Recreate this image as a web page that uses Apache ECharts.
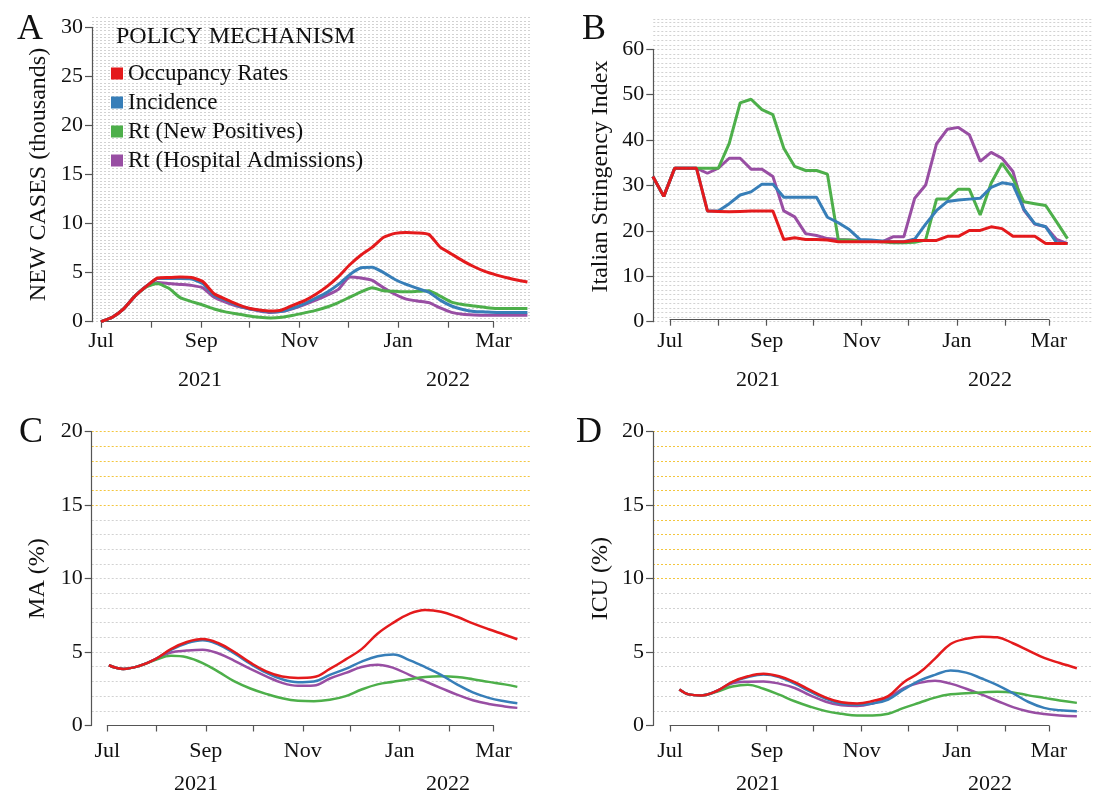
<!DOCTYPE html>
<html>
<head>
<meta charset="utf-8">
<script src="https://cdn.jsdelivr.net/npm/echarts@6/dist/echarts.min.js"></script>
<style>
html, body { margin: 0; padding: 0; background: #fff; }
#chart { width: 1097px; height: 796px; }
</style>
</head>
<body>
<div id="chart"></div>
<script>
const seriesNames = ['Occupancy Rates', 'Incidence', 'Rt (New Positives)', 'Rt (Hospital Admissions)']
const seriesColors = ['#e41a1c', '#377eb8', '#4daf4a', '#984ea3']
const monthNames = ['Jan', 'Feb', 'Mar', 'Apr', 'May', 'Jun', 'Jul', 'Aug', 'Sep', 'Oct', 'Nov', 'Dec']
const yearLabels = ['2021', '2022']

// A: new cases (thousands), weekly
const datesA = ['2021-07-01', '2021-07-08', '2021-07-15', '2021-07-22', '2021-07-29', '2021-08-05', '2021-08-12', '2021-08-19', '2021-08-26', '2021-09-02', '2021-09-09', '2021-09-16', '2021-09-23', '2021-09-30', '2021-10-07', '2021-10-14', '2021-10-21', '2021-10-28', '2021-11-04', '2021-11-11', '2021-11-18', '2021-11-25', '2021-12-02', '2021-12-09', '2021-12-16', '2021-12-23', '2021-12-30', '2022-01-06', '2022-01-13', '2022-01-20', '2022-01-27', '2022-02-03', '2022-02-10', '2022-02-17', '2022-02-24', '2022-03-03', '2022-03-10', '2022-03-17', '2022-03-22']
const occA = [0.0, 0.45, 1.3, 2.6, 3.6, 4.45, 4.5, 4.55, 4.5, 4.1, 2.85, 2.3, 1.8, 1.4, 1.2, 1.1, 1.2, 1.7, 2.15, 2.8, 3.6, 4.6, 5.8, 6.8, 7.6, 8.6, 9.0, 9.1, 9.05, 8.9, 7.6, 6.9, 6.2, 5.6, 5.1, 4.75, 4.45, 4.2, 4.05]
const incA = [0.0, 0.45, 1.3, 2.6, 3.6, 4.4, 4.4, 4.4, 4.35, 3.9, 2.7, 2.2, 1.7, 1.35, 1.15, 1.0, 1.05, 1.4, 1.85, 2.4, 3.0, 3.8, 4.8, 5.5, 5.55, 5.0, 4.3, 3.8, 3.4, 3.0, 2.2, 1.6, 1.25, 1.05, 1.0, 0.95, 0.95, 0.95, 0.95]
const rtnA = [0.0, 0.45, 1.3, 2.6, 3.55, 3.9, 3.4, 2.45, 2.05, 1.7, 1.3, 1.0, 0.8, 0.6, 0.45, 0.38, 0.45, 0.65, 0.9, 1.15, 1.5, 1.95, 2.5, 3.05, 3.45, 3.15, 3.1, 3.05, 3.1, 3.15, 2.6, 2.0, 1.75, 1.6, 1.45, 1.35, 1.35, 1.35, 1.35]
const rthA = [0.0, 0.45, 1.3, 2.6, 3.6, 4.0, 3.9, 3.8, 3.7, 3.45, 2.5, 2.0, 1.6, 1.35, 1.1, 0.95, 1.05, 1.35, 1.75, 2.2, 2.7, 3.3, 4.55, 4.45, 4.2, 3.45, 2.8, 2.3, 2.1, 1.95, 1.4, 0.95, 0.75, 0.68, 0.65, 0.65, 0.65, 0.65, 0.65]

// B: Italian stringency index, weekly
const datesB = ['2021-06-20', '2021-06-27', '2021-07-04', '2021-07-11', '2021-07-18', '2021-07-25', '2021-08-01', '2021-08-08', '2021-08-15', '2021-08-22', '2021-08-29', '2021-09-05', '2021-09-12', '2021-09-19', '2021-09-26', '2021-10-03', '2021-10-10', '2021-10-17', '2021-10-24', '2021-10-31', '2021-11-07', '2021-11-14', '2021-11-21', '2021-11-28', '2021-12-05', '2021-12-12', '2021-12-19', '2021-12-26', '2022-01-02', '2022-01-09', '2022-01-16', '2022-01-23', '2022-01-30', '2022-02-06', '2022-02-13', '2022-02-20', '2022-02-27', '2022-03-06', '2022-03-13']
const occB = [32.0, 27.6, 33.8, 33.8, 33.8, 24.4, 24.3, 24.2, 24.3, 24.4, 24.4, 24.4, 18.1, 18.5, 18.1, 18.1, 18.0, 17.6, 17.6, 17.6, 17.6, 17.6, 17.6, 17.6, 17.9, 17.9, 17.9, 18.8, 18.8, 20.1, 20.1, 20.9, 20.5, 18.8, 18.8, 18.8, 17.2, 17.2, 17.2]
const incB = [32.0, 27.6, 33.8, 33.8, 33.8, 24.4, 24.4, 26.0, 27.9, 28.6, 30.3, 30.3, 27.4, 27.4, 27.4, 27.4, 23.0, 21.8, 20.3, 18.1, 18.0, 17.8, 17.6, 17.6, 18.2, 21.5, 24.5, 26.5, 26.8, 27.0, 27.2, 29.6, 30.6, 30.2, 24.8, 21.6, 20.9, 17.4, 17.2]
const rtnB = [32.0, 27.6, 33.8, 33.8, 33.8, 33.8, 33.8, 39.3, 48.2, 49.0, 46.7, 45.6, 38.2, 34.2, 33.3, 33.3, 32.5, 18.0, 18.0, 17.8, 17.7, 17.6, 17.4, 17.4, 17.5, 18.0, 27.0, 27.0, 29.2, 29.2, 23.5, 30.5, 34.9, 31.5, 26.4, 26.0, 25.6, 22.0, 18.3]
const rthB = [32.0, 27.6, 33.8, 33.8, 33.8, 32.7, 33.8, 36.0, 36.0, 33.6, 33.6, 32.0, 24.4, 23.1, 19.4, 19.0, 18.3, 18.1, 18.0, 17.9, 17.7, 17.6, 18.7, 18.7, 27.2, 30.1, 39.2, 42.4, 42.8, 41.2, 35.3, 37.3, 36.0, 33.1, 24.6, 21.5, 20.9, 18.1, 17.2]

// C: MA occupancy (%)
const datesC = ['2021-07-02', '2021-07-11', '2021-07-21', '2021-07-31', '2021-08-10', '2021-08-20', '2021-08-30', '2021-09-09', '2021-09-19', '2021-09-29', '2021-10-09', '2021-10-19', '2021-10-29', '2021-11-08', '2021-11-18', '2021-11-28', '2021-12-08', '2021-12-18', '2021-12-28', '2022-01-07', '2022-01-17', '2022-01-27', '2022-02-06', '2022-02-16', '2022-02-26', '2022-03-08', '2022-03-16']
const occC = [4.1, 3.85, 4.05, 4.5, 5.2, 5.68, 5.88, 5.6, 5.0, 4.28, 3.69, 3.34, 3.24, 3.3, 3.85, 4.5, 5.2, 6.25, 7.0, 7.6, 7.86, 7.75, 7.4, 6.95, 6.55, 6.18, 5.87]
const incC = [4.1, 3.85, 4.05, 4.5, 5.15, 5.6, 5.8, 5.5, 4.9, 4.2, 3.6, 3.15, 2.95, 3.0, 3.45, 3.85, 4.35, 4.72, 4.83, 4.45, 3.98, 3.45, 2.8, 2.25, 1.88, 1.65, 1.52]
const rtnC = [4.1, 3.85, 4.05, 4.45, 4.75, 4.65, 4.25, 3.65, 3.0, 2.52, 2.15, 1.85, 1.68, 1.65, 1.75, 2.0, 2.45, 2.8, 2.98, 3.15, 3.3, 3.35, 3.3, 3.15, 2.97, 2.8, 2.63]
const rthC = [4.1, 3.85, 4.05, 4.5, 4.97, 5.1, 5.16, 4.9, 4.4, 3.85, 3.35, 2.9, 2.7, 2.72, 3.2, 3.58, 3.98, 4.14, 3.92, 3.45, 3.0, 2.55, 2.1, 1.72, 1.47, 1.3, 1.2]

// D: ICU occupancy (%)
const datesD = ['2021-07-07', '2021-07-13', '2021-07-21', '2021-07-31', '2021-08-10', '2021-08-20', '2021-08-30', '2021-09-09', '2021-09-19', '2021-09-29', '2021-10-09', '2021-10-19', '2021-10-29', '2021-11-08', '2021-11-18', '2021-11-28', '2021-12-08', '2021-12-18', '2021-12-28', '2022-01-07', '2022-01-17', '2022-01-27', '2022-02-06', '2022-02-16', '2022-02-26', '2022-03-08', '2022-03-19']
const occD = [2.45, 2.12, 2.05, 2.35, 2.97, 3.35, 3.52, 3.35, 2.95, 2.4, 1.9, 1.58, 1.5, 1.67, 2.0, 2.95, 3.6, 4.55, 5.55, 5.9, 6.05, 6.0, 5.6, 5.1, 4.6, 4.25, 3.9]
const incD = [2.45, 2.12, 2.05, 2.35, 2.95, 3.3, 3.47, 3.3, 2.85, 2.3, 1.82, 1.48, 1.42, 1.5, 1.77, 2.45, 3.05, 3.45, 3.75, 3.6, 3.2, 2.75, 2.2, 1.6, 1.2, 1.04, 0.97]
const rtnD = [2.45, 2.12, 2.05, 2.3, 2.65, 2.78, 2.5, 2.1, 1.65, 1.28, 0.98, 0.8, 0.68, 0.68, 0.8, 1.2, 1.55, 1.9, 2.12, 2.2, 2.25, 2.3, 2.25, 2.05, 1.88, 1.7, 1.54]
const rthD = [2.45, 2.12, 2.05, 2.35, 2.87, 2.98, 3.0, 2.85, 2.55, 2.05, 1.62, 1.37, 1.32, 1.5, 1.88, 2.55, 2.9, 3.05, 2.85, 2.5, 2.1, 1.67, 1.25, 0.95, 0.78, 0.68, 0.63]

const FONT = "'Liberation Serif', 'Times New Roman', serif"
const AXIS_COLOR = '#555'
const DOT_GRAY = '#d2d2d2'
const GOLD = '#f3c63f'

// dates as local timestamps on a plain value axis
const t = (y, m, d) => new Date(y, m - 1, d).getTime()
const ts = (s) => {
    const [y, m, d] = s.split('-').map(Number)
    return t(y, m, d)
}
const julStart = t(2021, 7, 1)
const marStart = t(2022, 3, 1)
const monthTicks = [t(2021, 7, 1), t(2021, 8, 1), t(2021, 9, 1), t(2021, 10, 1), t(2021, 11, 1), t(2021, 12, 1), t(2022, 1, 1), t(2022, 2, 1), t(2022, 3, 1)]
const monthLabels = [t(2021, 7, 1), t(2021, 9, 1), t(2021, 11, 1), t(2022, 1, 1), t(2022, 3, 1)]

const lineColors = (count, goldFrom) => {
    const list = []
    for (let i = 0; i <= count; i++) {
        if (i === 0 && goldFrom != null) list.push('rgba(0,0,0,0)')
        else list.push(goldFrom != null && i >= goldFrom ? GOLD : DOT_GRAY)
    }
    return list
}

const panels = [
    {
        letter: 'A', letterX: 30, letterY: 30,
        axisX: 92, y0: 321.7, yTop: 27.3, yMax: 30, yStep: 5,
        bgMax: 31, bgStep: 1 / 3, bgRight: 530, goldFrom: null,
        julX: 101, marX: 493.5, xOffset: 0, labelMargin: 9,
        name: 'NEW CASES (thousands)', nameGap: 41, namePad: 0,
        years: [200, 448], yearY: 380,
        dates: datesA, values: [occA, incA, rtnA, rthA], smooth: 0.15, width: 3
    },
    {
        letter: 'B', letterX: 594, letterY: 30,
        axisX: 653.3, y0: 321.7, yTop: 49.3, yMax: 60, yStep: 10,
        bgMax: 66.6, bgStep: 1, bgRight: 1092, goldFrom: null,
        julX: 670, marX: 1048.8, xOffset: -2, labelMargin: 11,
        name: 'Italian Stringency Index', nameGap: 41, namePad: 18,
        years: [758, 990], yearY: 380,
        dates: datesB, values: [occB, incB, rtnB, rthB], smooth: false, width: 3
    },
    {
        letter: 'C', letterX: 31, letterY: 433,
        axisX: 91.7, y0: 725.5, yTop: 431.7, yMax: 20, yStep: 5,
        bgMax: 20, bgStep: 1, bgRight: 530, goldFrom: 15,
        julX: 107.3, marX: 493.5, xOffset: 6, labelMargin: 9,
        name: 'MA (%)', nameGap: 42, namePad: 0,
        years: [196, 448], yearY: 784,
        dates: datesC, values: [occC, incC, rtnC, rthC], smooth: 0.4, width: 2.5
    },
    {
        letter: 'D', letterX: 589, letterY: 433,
        axisX: 653, y0: 725.5, yTop: 431.7, yMax: 20, yStep: 5,
        bgMax: 20, bgStep: 1, bgRight: 1092, goldFrom: 10,
        julX: 670, marX: 1048.8, xOffset: 6, labelMargin: 9,
        name: 'ICU (%)', nameGap: 40, namePad: 0,
        years: [758, 990], yearY: 784,
        dates: datesD, values: [occD, incD, rtnD, rthD], smooth: 0.4, width: 2.5
    }
]

const grid = []
const xAxis = []
const yAxis = []
const series = []
const graphic = []

panels.forEach((p, i) => {
    const pxPerUnit = (p.y0 - p.yTop) / p.yMax
    const bgTop = p.y0 - p.bgMax * pxPerUnit
    const msPerPx = (marStart - julStart) / (p.marX - p.julX)
    const bg = i * 2
    const main = i * 2 + 1

    // wide plotting grid: dotted guide lines and the curves
    grid.push({ left: p.axisX, top: bgTop, width: p.bgRight - p.axisX, height: p.y0 - bgTop })
    xAxis.push({
        type: 'value', gridIndex: bg, show: false,
        min: julStart - (p.julX - p.axisX) * msPerPx,
        max: julStart + (p.bgRight - p.julX) * msPerPx
    })
    yAxis.push({
        type: 'value', gridIndex: bg, min: 0, max: p.bgMax, interval: p.bgStep,
        axisLine: { show: false }, axisTick: { show: false }, axisLabel: { show: false },
        splitLine: {
            show: true,
            lineStyle: {
                color: lineColors(Math.round(p.bgMax / p.bgStep), p.goldFrom),
                type: [2, 2], width: 1
            }
        }
    })

    // axes only span Jul 1 to Mar 1 and 0 to the top tick
    grid.push({ left: p.julX, top: p.yTop, width: p.marX - p.julX, height: p.y0 - p.yTop })
    xAxis.push({
        type: 'value', gridIndex: main, min: julStart, max: marStart, offset: p.xOffset,
        axisLine: { show: true, lineStyle: { color: AXIS_COLOR, width: 1.2 } },
        axisTick: { show: true, customValues: monthTicks, length: 6, lineStyle: { color: AXIS_COLOR, width: 1.2 } },
        axisLabel: {
            customValues: monthLabels,
            formatter: (v) => monthNames[new Date(v).getMonth()],
            margin: p.labelMargin, fontSize: 22, fontFamily: FONT, color: '#111'
        },
        splitLine: { show: false }
    })
    yAxis.push({
        type: 'value', gridIndex: main, min: 0, max: p.yMax, interval: p.yStep,
        offset: p.julX - p.axisX,
        axisLine: { show: true, lineStyle: { color: AXIS_COLOR, width: 1.2 } },
        axisTick: { show: true, length: 7, lineStyle: { color: AXIS_COLOR, width: 1.2 } },
        axisLabel: { margin: 9, fontSize: 22, fontFamily: FONT, color: '#111' },
        splitLine: { show: false },
        name: p.name, nameLocation: 'middle', nameGap: p.nameGap,
        nameTextStyle: { fontSize: 24, fontFamily: FONT, color: '#111', padding: [0, 0, 0, p.namePad] }
    })

    // draw purple, green, blue, red so red ends on top
    ;[3, 2, 1, 0].forEach((k) => {
        series.push({
            name: seriesNames[k], type: 'line', xAxisIndex: bg, yAxisIndex: bg,
            data: p.dates.map((d, j) => [ts(d), p.values[k][j]]),
            showSymbol: false, smooth: p.smooth,
            color: seriesColors[k],
            lineStyle: { color: seriesColors[k], width: p.width },
            z: 3 + (3 - k)
        })
    })

    graphic.push({
        type: 'text', x: p.letterX, y: p.letterY, z: 100,
        style: { text: p.letter, font: '36px ' + FONT, fill: '#111', align: 'center', verticalAlign: 'middle' }
    })
    p.years.forEach((yx, k) => {
        graphic.push({
            type: 'text', x: yx, y: p.yearY, z: 100,
            style: { text: yearLabels[k], font: '22px ' + FONT, fill: '#111', align: 'center', verticalAlign: 'middle' }
        })
    })
})

graphic.push({
    type: 'text', x: 116, y: 37, z: 100,
    style: { text: 'POLICY MECHANISM', font: '24px ' + FONT, fill: '#111', align: 'left', verticalAlign: 'middle' }
})

const chart = echarts.init(document.getElementById('chart'), null, { renderer: 'canvas' })
chart.setOption({
    animation: false,
    backgroundColor: '#fff',
    grid,
    xAxis,
    yAxis,
    series,
    graphic,
    legend: {
        data: seriesNames,
        orient: 'vertical',
        left: 106,
        top: 57,
        icon: 'rect',
        itemWidth: 12,
        itemHeight: 12,
        itemGap: 6,
        selectedMode: false,
        textStyle: { fontSize: 23, fontFamily: FONT, color: '#111', lineHeight: 23 }
    }
})
</script>
</body>
</html>
